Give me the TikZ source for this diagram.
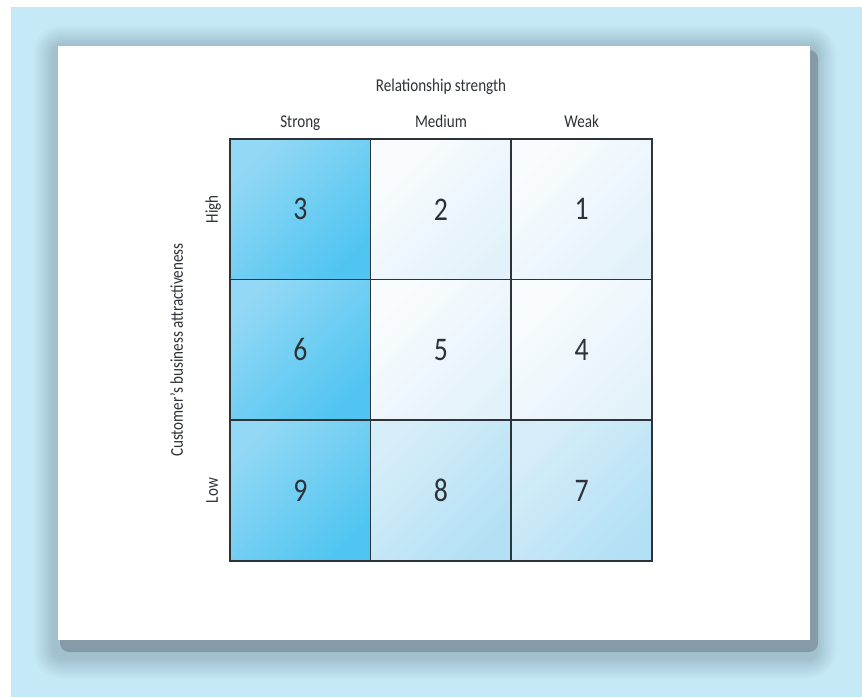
\documentclass[tikz,border=0pt]{standalone}
\usepackage{fontspec}
\setmainfont{Carlito}[FakeStretch=0.84]
\usetikzlibrary{positioning}
\definecolor{pagebg}{HTML}{C6E9F7}
\definecolor{halodark}{HTML}{9DBCCA}
\definecolor{shadowcol}{HTML}{869BA7}
\definecolor{gridline}{HTML}{2E3338}
\definecolor{numtext}{HTML}{2E3236}
\definecolor{strongA}{HTML}{93D8F5}
\definecolor{strongB}{HTML}{50C5F1}
\definecolor{paleA}{HTML}{F9FCFE}
\definecolor{paleB}{HTML}{E3F2FA}
\definecolor{midA}{HTML}{D6EEF9}
\definecolor{midB}{HTML}{B3E0F5}
\tikzset{
  cell/.style={minimum size=140.67pt, inner sep=0pt, outer sep=0pt,
               font=\fontsize{33}{33}\selectfont, text=numtext},
  strongcell/.style={cell, top color=strongA, bottom color=strongB, shading angle=45},
  palecell/.style={cell, top color=paleA, bottom color=paleB, shading angle=45},
  midcell/.style={cell, top color=midA, bottom color=midB, shading angle=45},
  cellborder/.style={draw=gridline, line width=1.7pt},
  axislbl/.style={font=\fontsize{18}{18}\selectfont, text=numtext, inner sep=0pt,
                  text height=12pt, text depth=3pt},
  titlelbl/.style={axislbl}
}

\begin{document}
\begin{tikzpicture}[x=1pt, y=-1pt]
  \useasboundingbox (0,0) rectangle (862,697);
  % page and card
  \fill[pagebg] (11,7) rectangle (862,697);
  \foreach \k in {0,...,10}
    \fill[halodark!\the\numexpr\k*9\relax!pagebg, rounded corners=\the\numexpr 30-2*\k\relax pt]
      (32+2*\k,24+2*\k) rectangle (838-2*\k,680-2*\k);
  \fill[shadowcol, rounded corners=9pt] (60,50) rectangle (818,652);
  \fill[white] (58,46) rectangle (810,640);
  % grid
  \node[strongcell] (c3) at (300.3,209.3) {3};
  \node[palecell, right=0pt of c3] (c2) {2};
  \node[palecell, right=0pt of c2] (c1) {1};
  \node[strongcell, below=0pt of c3] (c6) {6};
  \node[palecell, right=0pt of c6] (c5) {5};
  \node[palecell, right=0pt of c5] (c4) {4};
  \node[strongcell, below=0pt of c6] (c9) {9};
  \node[midcell, right=0pt of c9] (c8) {8};
  \node[midcell, right=0pt of c8] (c7) {7};
  \foreach \c in {c1,c2,c3,c4,c5,c6,c7,c8,c9}
    \draw[cellborder] (\c.south west) rectangle (\c.north east);
  % labels
  \node[axislbl, above=8pt of c3] (strong) {Strong};
  \node[axislbl, above=8pt of c2] (medium) {Medium};
  \node[axislbl, above=8pt of c1] (weak) {Weak};
  \node[titlelbl, above=21pt of medium] (relstr) {Relationship strength};
  \node[axislbl, rotate=90, left=9pt of c3, anchor=south] (high) {High};
  \node[axislbl, rotate=90, left=9pt of c9, anchor=south] (low) {Low};
  \node[titlelbl, rotate=90, left=44pt of c6, anchor=south] (attract) {Customer’s business attractiveness};
\end{tikzpicture}
\end{document}
